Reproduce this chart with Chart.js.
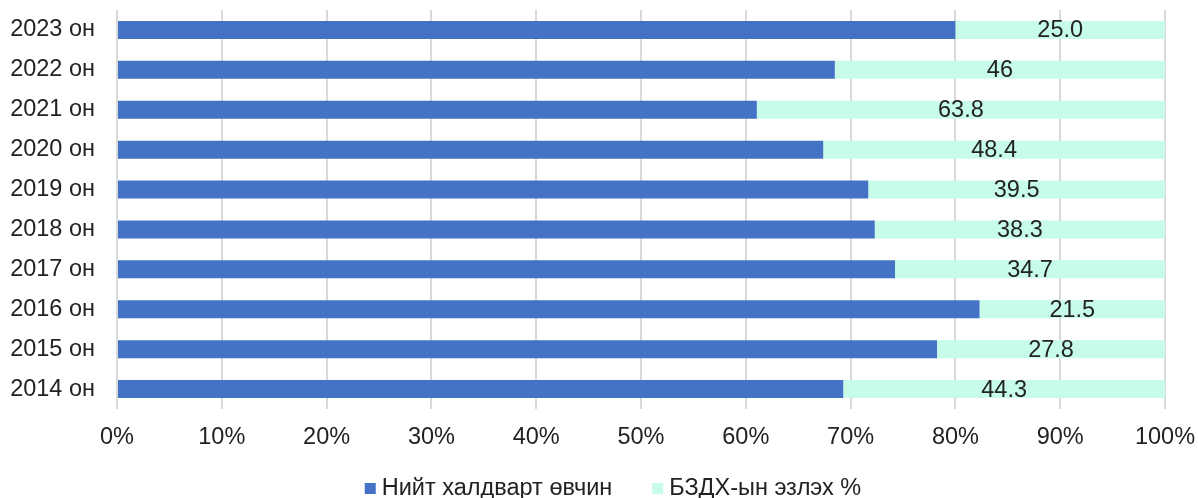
<!DOCTYPE html>
<html><head><meta charset="utf-8">
<script src="https://cdn.jsdelivr.net/npm/chart.js@4/dist/chart.umd.min.js"></script>
<style>html,body{margin:0;padding:0;background:#fff}#wrap{width:1198px;height:498px}</style>
</head><body><div id="wrap"><canvas id="c"></canvas></div>
<script>
const categories = ['2023 он','2022 он','2021 он','2020 он','2019 он','2018 он','2017 он','2016 он','2015 он','2014 он'];
const totalInfectious = [100,100,100,100,100,100,100,100,100,100];
const stdShare = [25.0,46,63.8,48.4,39.5,38.3,34.7,21.5,27.8,44.3];
const stdLabels = ['25.0','46','63.8','48.4','39.5','38.3','34.7','21.5','27.8','44.3'];
const seriesNames = ['Нийт халдварт өвчин','БЗДХ-ын эзлэх %'];
const seriesColors = ['#4472C4','#C6FCE8'];

const pctA = totalInfectious.map((v,i)=>v/(v+stdShare[i])*100);
const pctB = stdShare.map((v,i)=>v/(totalInfectious[i]+v)*100);

const FONT = "'Liberation Sans', Arial, sans-serif";
const FS = 23.5;
const TXT = '#222';

const labelPlugin = {
  id:'lbl',
  afterDatasetsDraw(chart){
    const ctx = chart.ctx;
    const meta = chart.getDatasetMeta(1);
    ctx.save();
    ctx.font = FS + "px " + FONT;
    ctx.fillStyle = TXT;
    ctx.textAlign = 'center';
    ctx.textBaseline = 'middle';
    meta.data.forEach((el,i)=>{
      const cx = (el.x + el.base)/2;
      ctx.fillText(stdLabels[i], cx, el.y+1);
    });
    ctx.restore();
  }
};

const legendPlugin = {
  id:'customLegend',
  afterDraw(chart){
    const ctx = chart.ctx;
    ctx.save();
    ctx.font = FS + "px " + FONT;
    ctx.textBaseline = 'middle';
    ctx.textAlign = 'left';
    const box = 11, gapBoxText = 6, gapItems = 40;
    const ds = chart.data.datasets;
    const widths = ds.map(d => box + gapBoxText + ctx.measureText(d.label).width);
    const total = widths.reduce((a,b)=>a+b,0) + gapItems*(ds.length-1);
    let x = 613 - total/2;
    const cy = 489;
    ds.forEach((d,i)=>{
      ctx.fillStyle = d.backgroundColor;
      ctx.fillRect(x, cy - box/2 - 0.5, box, box);
      ctx.fillStyle = TXT;
      ctx.fillText(d.label, x + box + gapBoxText, cy);
      x += widths[i] + gapItems;
    });
    ctx.restore();
  }
};

new Chart(document.getElementById('c'),{
  type:'bar',
  data:{labels:categories,datasets:[
    {label:seriesNames[0],data:pctA,backgroundColor:seriesColors[0],barPercentage:0.45,categoryPercentage:1},
    {label:seriesNames[1],data:pctB,backgroundColor:seriesColors[1],barPercentage:0.45,categoryPercentage:1}
  ]},
  options:{
    indexAxis:'y',responsive:true,maintainAspectRatio:false,animation:false,
    layout:{padding:{top:10,right:33,left:10,bottom:0}},
    plugins:{
      legend:{display:false},
      tooltip:{enabled:false}
    },
    scales:{
      x:{stacked:true,min:0,max:100,
        afterFit:s=>{s.height=89; s.paddingLeft=0; s.paddingRight=0;},
        ticks:{stepSize:10,callback:v=>v+'%',font:{family:FONT,size:FS},color:TXT,padding:14},
        grid:{color:'#d9d9d9',lineWidth:2,drawTicks:false},border:{display:false}},
      y:{stacked:true,
        afterFit:s=>{s.width=107; s.paddingTop=0; s.paddingBottom=0;},
        ticks:{font:{family:FONT,size:FS},color:TXT,padding:22},
        grid:{display:false,drawTicks:false},border:{display:false}}
    }
  },
  plugins:[labelPlugin, legendPlugin]
});
</script></body></html>
